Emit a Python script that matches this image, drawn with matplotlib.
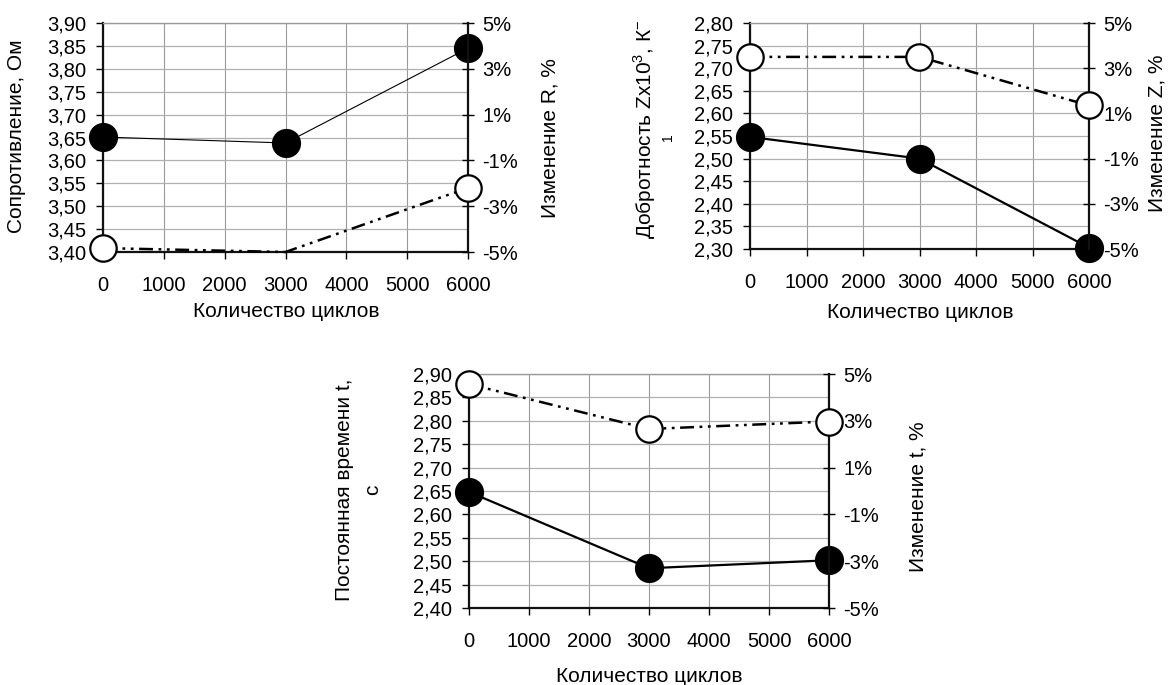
import numpy as np
import matplotlib
matplotlib.use("Agg")
import matplotlib.pyplot as plt
from matplotlib.ticker import FuncFormatter

plt.rcParams['font.family'] = ['Liberation Sans', 'DejaVu Sans']
plt.rcParams['mathtext.fontset'] = 'custom'
plt.rcParams['mathtext.rm'] = 'Liberation Sans'
plt.rcParams['lines.scale_dashes'] = False

# data
cycles = [0, 3000, 6000]
x_ticks = [0, 1000, 2000, 3000, 4000, 5000, 6000]
pct_ticks = [-5, -3, -1, 1, 3, 5]

resistance = [3.651, 3.638, 3.845]
resistance_change = [-4.83, -5.0, -2.2]
quality = [2.548, 2.500, 2.303]
quality_change = [3.5, 3.5, 1.35]
tau = [2.648, 2.485, 2.502]
tau_change = [4.57, 2.65, 2.97]

W, H = 1169, 685
fig = plt.figure(figsize=(W / 100, H / 100), dpi=100)


def px_ax(l, t, r, b):
    return fig.add_axes([l / W, 1 - b / H, (r - l) / W, (b - t) / H])


def px_text(x, y, s, size=15, **kw):
    fig.text(x / W, 1 - y / H, s, ha='center', va='center', fontsize=size, **kw)


comma = FuncFormatter(lambda v, p: f"{v:.2f}".replace('.', ','))
pct = FuncFormatter(lambda v, p: f"{v:.0f}%")
dashdotdot = (10, 4, 2, 4, 2, 4)


def panel(box, y, y_ch, ylim, lw_main, markevery_ch=None):
    ax = px_ax(*box)
    ax.set_xlim(0, 6000)
    ax.set_ylim(*ylim)
    ax.set_xticks(x_ticks)
    ax.set_yticks(np.arange(ylim[0], ylim[1] + 0.001, 0.05))
    ax.yaxis.set_major_formatter(comma)
    ax.grid(True, axis='x', color='#9a9a9a', lw=0.8)
    ax.grid(True, axis='y', color='#b0b0b0', lw=0.9)
    ax.set_axisbelow(True)
    ax.tick_params(axis='both', labelsize=14.5, direction='out', length=5, width=1)
    ax.tick_params(axis='x', pad=12)
    ax.tick_params(axis='y', pad=7)
    for s in ['left', 'bottom']:
        ax.spines[s].set_linewidth(1.6)
        ax.spines[s].set_color('#111111')
    ax.spines['top'].set_color('#9a9a9a')
    ax.spines['top'].set_linewidth(1.0)
    ax.spines['right'].set_visible(False)
    ax.plot(cycles, y, color='black', lw=lw_main, marker='o', ms=20,
            mfc='black', mec='black', clip_on=False, zorder=5)

    ax2 = ax.twinx()
    ax2.set_ylim(-5, 5)
    ax2.set_yticks(pct_ticks)
    ax2.yaxis.set_major_formatter(pct)
    ax2.tick_params(axis='y', labelsize=14.5, direction='inout', length=9, width=1, pad=6)
    for s in ['left', 'bottom', 'top']:
        ax2.spines[s].set_visible(False)
    ax2.spines['right'].set_linewidth(1.6)
    ax2.spines['right'].set_color('#111111')
    line, = ax2.plot(cycles, y_ch, color='black', lw=1.8, marker='o', ms=19,
                     mfc='white', mec='black', mew=1.6, clip_on=False, zorder=5,
                     markevery=markevery_ch)
    line.set_dashes(dashdotdot)
    return ax, ax2


# top left: resistance
panel((103, 23, 468, 252), resistance, resistance_change, (3.40, 3.90), 0.8,
      markevery_ch=[0, 2])
px_text(17, 136, 'Сопротивление, Ом', rotation=90)
px_text(550, 138, 'Изменение R, %', rotation=90)
px_text(286, 311, 'Количество циклов')

# top right: figure of merit
panel((750, 23, 1089, 249), quality, quality_change, (2.30, 2.80), 1.6)
px_text(645, 129, 'Добротность Zx10$^3$, К$^{-}$', rotation=90)
px_text(668, 137, '1', size=10, rotation=90)
px_text(1157, 133, 'Изменение Z, %', rotation=90)
px_text(920, 313, 'Количество циклов')

# bottom: time constant
panel((469, 374, 829, 608), tau, tau_change, (2.40, 2.90), 1.6)
px_text(345, 490, 'Постоянная времени t,', rotation=90)
px_text(373, 490, 'с', rotation=90)
px_text(918, 497, 'Изменение t, %', rotation=90)
px_text(649, 677, 'Количество циклов')

plt.savefig("out.png", dpi=100)
